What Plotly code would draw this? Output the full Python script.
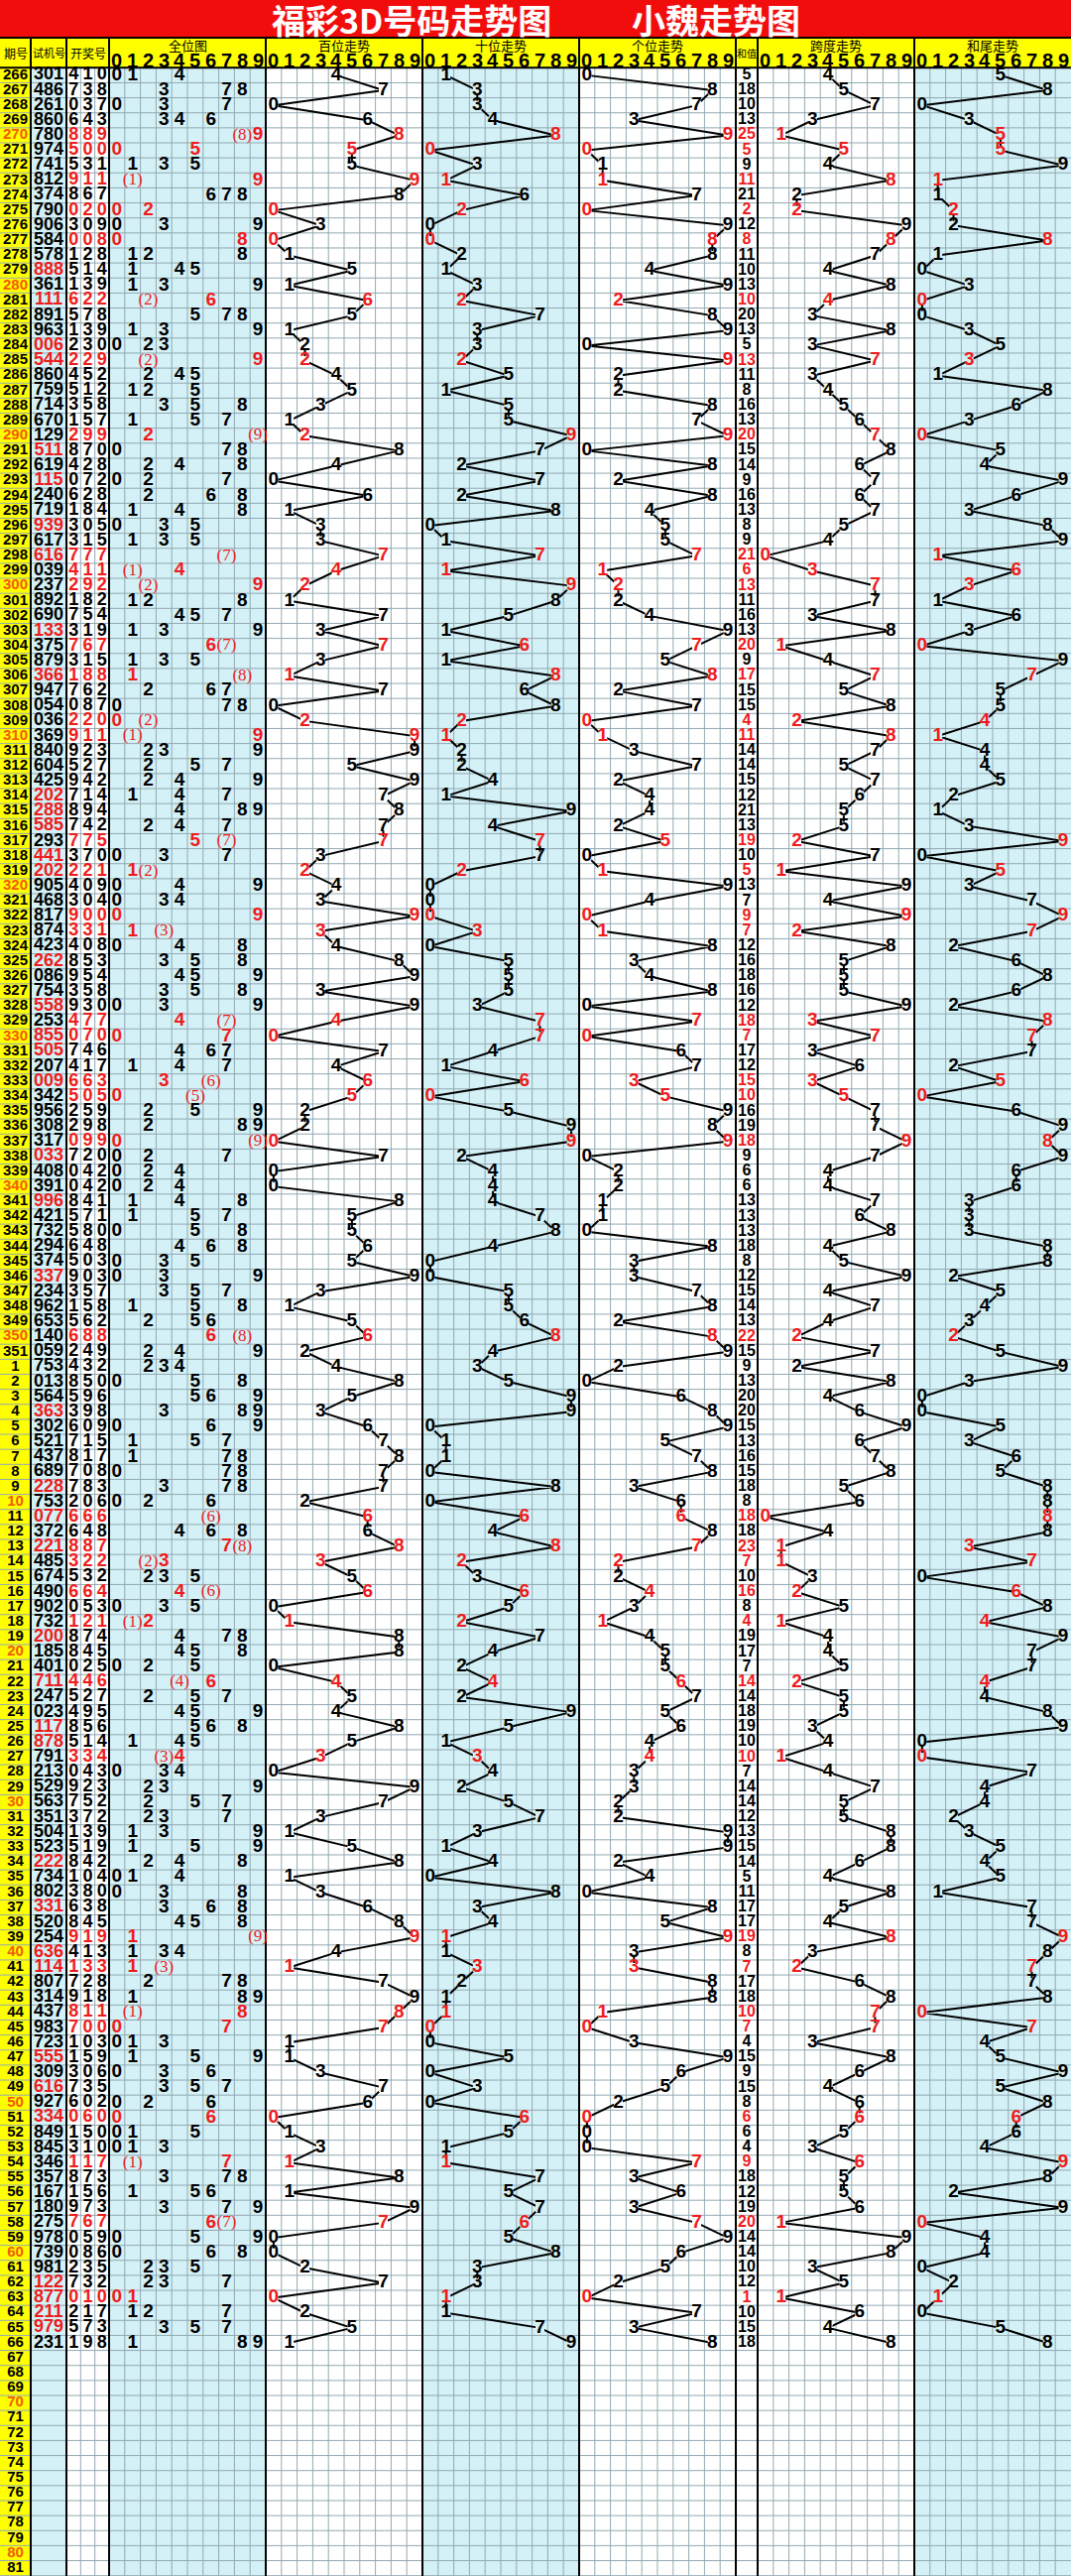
import plotly.graph_objects as go

# ---------------- data ----------------
periods = list(range(266, 352)) + list(range(1, 82))

test_nums = [
    "301", "486", "261", "860", "780", "974", "741", "812", "374", "790",
    "906", "584", "578", "888", "361", "111", "891", "963", "006", "544",
    "860", "759", "714", "670", "129", "511", "619", "115", "240", "719",
    "939", "617", "616", "039", "237", "892", "690", "133", "375", "879",
    "366", "947", "054", "036", "369", "840", "604", "425", "202", "288",
    "585", "293", "441", "202", "905", "468", "817", "874", "423", "262",
    "086", "754", "558", "253", "855", "505", "207", "009", "342", "956",
    "308", "317", "033", "408", "391", "996", "421", "732", "294", "374",
    "337", "234", "962", "653", "140", "059",
    "753", "013", "564", "363", "302", "521", "437", "689", "228", "753",
    "077", "372", "221", "485", "674", "490", "902", "732", "200", "185",
    "401", "711", "247", "023", "117", "878", "791", "213", "529", "563",
    "351", "504", "523", "222", "734", "802", "331", "520", "254", "636",
    "114", "807", "314", "437", "983", "723", "555", "309", "616", "927",
    "334", "849", "845", "346", "357", "167", "180", "275", "978", "739",
    "981", "122", "877", "211", "979", "231",
]

draw_nums = [
    "410", "738", "037", "643", "889", "500", "531", "911", "867", "020",
    "309", "008", "128", "514", "139", "622", "578", "139", "230", "229",
    "452", "512", "358", "157", "299", "870", "428", "072", "628", "184",
    "305", "315", "777", "411", "292", "182", "754", "319", "767", "315",
    "188", "762", "087", "220", "911", "923", "527", "942", "714", "894",
    "742", "775", "370", "221", "409", "304", "900", "331", "408", "853",
    "954", "358", "930", "477", "070", "746", "417", "663", "505", "259",
    "298", "099", "720", "042", "042", "841", "571", "580", "648", "503",
    "903", "357", "158", "562", "688", "249",
    "432", "850", "596", "398", "609", "715", "817", "708", "783", "206",
    "666", "648", "887", "322", "532", "664", "053", "121", "874", "845",
    "025", "446", "527", "495", "856", "514", "334", "043", "923", "752",
    "372", "139", "519", "842", "104", "380", "638", "845", "919", "413",
    "133", "728", "918", "811", "700", "103", "159", "306", "735", "602",
    "060", "150", "310", "117", "873", "156", "973", "767", "059", "086",
    "235", "732", "010", "217", "573", "198",
]

digit_labels = [str(d) for d in range(10)]
title_left = "福彩3D号码走势图"
title_right = "小魏走势图"

# ---------------- geometry ----------------
W, H = 1080, 2597
TITLE_H = 38
HEAD_Y0, HEAD_Y1 = 38, 68.3
RH = 15.14
CW = 15.8
X_PER = (0, 31)
X_TEST = (31, 67)
X_DRAW = (67, 110)
X_SUM = (742, 764)
SEC = {"all": 110, "hund": 268, "ten": 426, "unit": 584, "span": 764, "tail": 922}

RED = "#EE1C1C"
ORANGE = "#F25C05"
BLACK = "#000000"
CYAN = "#D3F1F7"
YELLOW = "#FFFF00"
GRID = "#93A9B2"

n_rows = len(periods)
n_data = len(draw_nums)


def ry(i):
    return HEAD_Y1 + (i + 0.5) * RH


def cx(sec, d):
    return SEC[sec] + (d + 0.5) * CW


draw_cw = (X_DRAW[1] - X_DRAW[0]) / 3


def is_pair(s):
    return len(set(s)) < 3


fig = go.Figure()
shapes = []


def rect(x0, y0, x1, y1, color):
    shapes.append(dict(type="rect", xref="x", yref="y", x0=x0, x1=x1, y0=y0, y1=y1,
                       fillcolor=color, line=dict(width=0), layer="below"))


# backgrounds
rect(0, 0, W, TITLE_H, "#F20D0D")
rect(0, HEAD_Y0, W, HEAD_Y1, YELLOW)
rect(X_PER[0], HEAD_Y1, X_PER[1], H, YELLOW)
rect(X_TEST[0], HEAD_Y1, X_TEST[1], H, CYAN)
rect(X_DRAW[0], HEAD_Y1, X_DRAW[1], H, "#FFFFFF")
for key, col in [("all", CYAN), ("hund", "#FFFFFF"), ("ten", CYAN),
                 ("unit", "#FFFFFF"), ("span", "#FFFFFF"), ("tail", CYAN)]:
    rect(SEC[key], HEAD_Y1, SEC[key] + 10 * CW, H, col)
rect(X_SUM[0], HEAD_Y1, X_SUM[1], H, "#FFFFFF")

# grid lines
gx, gy = [], []
for i in range(n_rows + 1):
    y = HEAD_Y1 + i * RH
    gx += [0, W, None]
    gy += [y, y, None]
for key in SEC:
    for k in range(1, 10):
        x = SEC[key] + k * CW
        gx += [x, x, None]
        gy += [HEAD_Y1, H, None]
for k in (1, 2):
    x = X_DRAW[0] + k * draw_cw
    gx += [x, x, None]
    gy += [HEAD_Y1, H, None]
fig.add_trace(go.Scatter(x=gx, y=gy, mode="lines", line=dict(color=GRID, width=1),
                         hoverinfo="skip", showlegend=False))

# section separators
sx, sy = [], []
for x in [X_PER[1], X_TEST[1], X_DRAW[1], SEC["hund"], SEC["ten"], SEC["unit"],
          X_SUM[0], X_SUM[1], SEC["tail"]]:
    sx += [x, x, None]
    sy += [HEAD_Y0, H, None]
sx += [0, W, None, 0, W, None]
sy += [HEAD_Y0, HEAD_Y0, None, HEAD_Y1, HEAD_Y1, None]
fig.add_trace(go.Scatter(x=sx, y=sy, mode="lines", line=dict(color=BLACK, width=2),
                         hoverinfo="skip", showlegend=False))

# derived series per draw
hund = [int(s[0]) for s in draw_nums]
ten = [int(s[1]) for s in draw_nums]
unit = [int(s[2]) for s in draw_nums]
sums = [sum(int(c) for c in s) for s in draw_nums]
spans = [max(int(c) for c in s) - min(int(c) for c in s) for s in draw_nums]
tails = [v % 10 for v in sums]
pair = [is_pair(s) for s in draw_nums]

trend = {"hund": hund, "ten": ten, "unit": unit, "span": spans, "tail": tails}
bg_of = {"hund": "#FFFFFF", "ten": CYAN, "unit": "#FFFFFF", "span": "#FFFFFF", "tail": CYAN}

for key, vals in trend.items():
    xs = [cx(key, v) for v in vals]
    ys = [ry(i) for i in range(n_data)]
    fig.add_trace(go.Scatter(x=xs, y=ys, mode="lines", line=dict(color=BLACK, width=2),
                             hoverinfo="skip", showlegend=False))
    fig.add_trace(go.Scatter(x=xs, y=ys, mode="markers",
                             marker=dict(symbol="square", size=9, color=bg_of[key],
                                         line=dict(width=0)),
                             hoverinfo="skip", showlegend=False))

# text collection
texts = {}


def put(x, y, t, color, size, family="Liberation Sans", weight="bold"):
    k = (color, size, family, weight)
    texts.setdefault(k, ([], [], []))
    texts[k][0].append(x)
    texts[k][1].append(y)
    texts[k][2].append(t)


for i, p in enumerate(periods):
    put(sum(X_PER) / 2, ry(i), str(p), ORANGE if p % 10 == 0 else BLACK, 15)

for i in range(n_data):
    y = ry(i)
    t = test_nums[i]
    put(sum(X_TEST) / 2, y, t, RED if is_pair(t) else BLACK, 18)
    d = draw_nums[i]
    col = RED if pair[i] else BLACK
    for k, c in enumerate(d):
        put(X_DRAW[0] + (k + 0.5) * draw_cw, y, c, col, 18)
    # full-position map: repeated digit marked with a ring
    digits = sorted(set(int(c) for c in d))
    for v in digits:
        cnt = d.count(str(v))
        if not pair[i]:
            put(cx("all", v), y, str(v), BLACK, 19)
        elif cnt >= 2 and v != 0:
            put(cx("all", v), y, "(" + str(v) + ")", RED, 17, "Liberation Serif", "normal")
        else:
            put(cx("all", v), y, str(v), RED, 19)
    for key, vals in trend.items():
        put(cx(key, vals[i]), y, str(vals[i]), col, 19)
    put(sum(X_SUM) / 2, y, str(sums[i]), col, 16)

for (color, size, family, weight), (xs, ys, ts) in texts.items():
    fig.add_trace(go.Scatter(x=xs, y=ys, text=ts, mode="text",
                             textfont=dict(color=color, size=size, family=family, weight=weight),
                             textposition="middle center", hoverinfo="skip", showlegend=False))

# header labels
annotations = []


def ann(x, y, t, size, color=BLACK, family="Noto Sans CJK SC", bold=False):
    annotations.append(dict(x=x, y=y, xref="x", yref="y", text=t, showarrow=False,
                            font=dict(size=size, color=color, family=family,
                                      weight="bold" if bold else "normal"),
                            xanchor="center", yanchor="middle"))


ann(415, 19, title_left, 34, "#FFFFFF", bold=True)
ann(722, 19, title_right, 34, "#FFFFFF", bold=True)
ann(sum(X_PER) / 2, 53, "期号", 12)
ann(sum(X_TEST) / 2, 53, "试机号", 11)
ann(sum(X_DRAW) / 2, 53, "开奖号", 12)
ann(sum(X_SUM) / 2, 53, "和值", 10)
sec_names = {"all": "全位图", "hund": "百位走势", "ten": "十位走势", "unit": "个位走势",
             "span": "跨度走势", "tail": "和尾走势"}
for key, name in sec_names.items():
    ann(SEC[key] + 5 * CW, 45, name, 13)
    for d, lab in enumerate(digit_labels):
        ann(cx(key, d), 61, lab, 20, family="Liberation Sans", bold=True)

fig.update_layout(
    width=W, height=H, margin=dict(l=0, r=0, t=0, b=0),
    paper_bgcolor="#FFFFFF", plot_bgcolor="#FFFFFF",
    xaxis=dict(range=[0, W], visible=False, fixedrange=True),
    yaxis=dict(range=[H, 0], visible=False, fixedrange=True),
    shapes=shapes, annotations=annotations, showlegend=False,
)

fig.write_html("out.html", config={"displayModeBar": False})
